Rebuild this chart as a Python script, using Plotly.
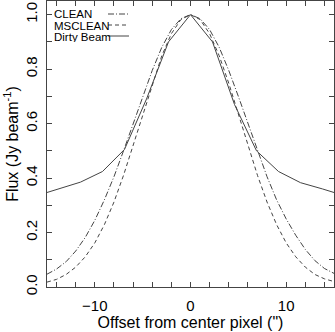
import plotly.graph_objects as go

# offsets (arcsec) and normalised flux
clean_x = list(range(-15, 16))
clean_y = [0.047, 0.066, 0.093, 0.132, 0.182, 0.245, 0.32, 0.405, 0.50, 0.60, 0.70, 0.795, 0.88, 0.945, 0.985, 1.0,
           0.985, 0.945, 0.88, 0.795, 0.70, 0.60, 0.50, 0.405, 0.32, 0.25, 0.19, 0.138, 0.097, 0.068, 0.05]

msclean_x = list(range(-15, 16))
msclean_y = [0.018, 0.028, 0.046, 0.073, 0.111, 0.162, 0.229, 0.312, 0.41, 0.52, 0.635, 0.748, 0.849, 0.93, 0.982, 1.0,
             0.982, 0.93, 0.849, 0.748, 0.635, 0.52, 0.41, 0.312, 0.229, 0.162, 0.111, 0.073, 0.046, 0.03, 0.02]

dirty_x = [-16.1, -13.8, -11.5, -9.2, -6.9, -4.6, -2.3, 0.0, 2.3, 4.6, 6.9, 9.2, 11.5, 13.8, 16.1]
dirty_y = [0.335, 0.36, 0.385, 0.424, 0.505, 0.69, 0.90, 1.0, 0.90, 0.67, 0.50, 0.424, 0.383, 0.36, 0.335]

series = [
    ("CLEAN", clean_x, clean_y, "6px,2px,1px,2px"),
    ("MSCLEAN", msclean_x, msclean_y, "4px,3px"),
    ("Dirty Beam", dirty_x, dirty_y, "solid"),
]

LINE = "#444444"
FONT = "Liberation Sans, Arial, sans-serif"
W, H = 335, 332
ML, MR, MT, MB = 47, 1, 1, 45

fig = go.Figure()
for name, xs, ys, dash in series:
    fig.add_trace(go.Scatter(x=xs, y=ys, mode="lines", name=name,
                             line=dict(color=LINE, width=1, dash=dash)))

# legend drawn by hand: text on the left, line sample on the right
pw, ph = W - ML - MR, H - MT - MB
for i, (name, xs, ys, dash) in enumerate(series):
    py_ = 14 + 11 * i
    yp = (H - MB - py_) / ph
    fig.add_annotation(x=(53 - ML) / pw, y=yp, xref="paper", yref="paper",
                       text=name, showarrow=False, xanchor="left", yanchor="middle",
                       height=11, borderpad=0,
                       font=dict(size=11.5, color="black", family=FONT))
    fig.add_shape(type="line", xref="paper", yref="paper",
                  x0=(108 - ML) / pw, x1=(129 - ML) / pw, y0=yp, y1=yp,
                  line=dict(color=LINE, width=1, dash=dash))

axis_common = dict(showgrid=False, zeroline=False, showline=True, linecolor=LINE, linewidth=1,
                   mirror="ticks", ticks="inside", ticklen=5, tickcolor=LINE,
                   tickfont=dict(size=15, color="black", family=FONT),
                   title_font=dict(size=16, color="black", family=FONT))

fig.update_xaxes(range=[-15, 15], dtick=10, tick0=0, ticklabelstandoff=5,
                 minor=dict(dtick=2, ticks="inside", ticklen=5, tickcolor=LINE),
                 title_text='Offset from center pixel (")', title_standoff=2, **axis_common)
fig.update_yaxes(range=[0, 1.05], dtick=0.2, tick0=0, tickformat=".1f", tickangle=-90,
                 ticklabelstandoff=3,
                 minor=dict(dtick=0.1, ticks="inside", ticklen=5, tickcolor=LINE),
                 title_text="Flux (Jy beam<sup>-1</sup>)", title_standoff=0, **axis_common)

fig.update_layout(width=W, height=H, margin=dict(l=ML, r=MR, t=MT, b=MB),
                  plot_bgcolor="white", paper_bgcolor="white", showlegend=False,
                  font=dict(family=FONT))

# drop the page's default body margin so the figure sits at the window's corner
fig.write_html("out.html", config={"displayModeBar": False},
               post_script="document.body.style.margin='0';")
